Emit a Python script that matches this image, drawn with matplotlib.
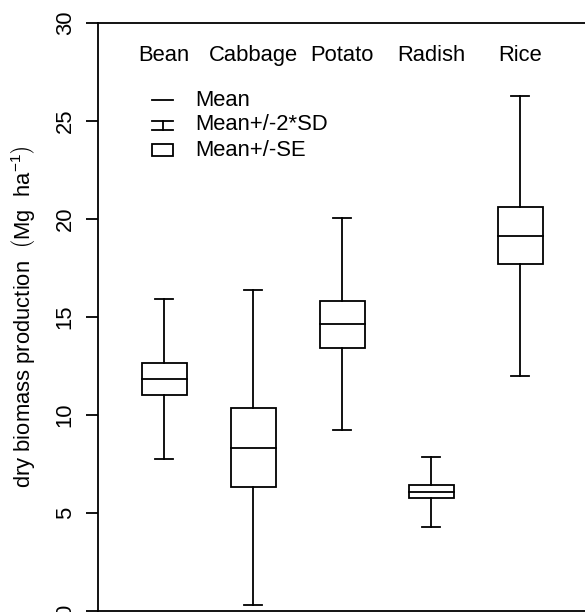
import matplotlib
matplotlib.use("Agg")
import matplotlib.pyplot as plt
from matplotlib.patches import Rectangle

plt.rcParams['font.family'] = ['Liberation Sans', 'DejaVu Sans']
plt.rcParams['mathtext.fontset'] = 'custom'
plt.rcParams['mathtext.rm'] = 'Liberation Sans'
plt.rcParams['mathtext.it'] = 'Liberation Sans:italic'

# crop biomass summary (Mg/ha)
crops = ['Bean', 'Cabbage', 'Potato', 'Radish', 'Rice']
means = [11.82, 8.32, 14.62, 6.06, 19.14]
se = [0.84, 2.03, 1.20, 0.33, 1.45]
sd = [2.04, 4.03, 2.70, 0.90, 3.57]
yticks = [0, 5, 10, 15, 20, 25, 30]

W, H = 585, 612
fs = 15.8
fig = plt.figure(figsize=(W / 100, H / 100), dpi=100)
ax = fig.add_axes([97.5 / W, 1.5 / H, 489.5 / W, 587.5 / H])

lw = 1.3
box_w = 0.5
cap_w = 0.2
for i, (m, s, d) in enumerate(zip(means, se, sd)):
    x = i + 1
    # whiskers: mean +/- 2*SD
    ax.plot([x, x], [m + s, m + 2 * d], color='black', lw=lw)
    ax.plot([x, x], [m - s, m - 2 * d], color='black', lw=lw)
    ax.plot([x - cap_w / 2, x + cap_w / 2], [m + 2 * d] * 2, color='black', lw=lw)
    ax.plot([x - cap_w / 2, x + cap_w / 2], [m - 2 * d] * 2, color='black', lw=lw)
    # box: mean +/- SE
    ax.add_patch(Rectangle((x - box_w / 2, m - s), box_w, 2 * s,
                           fill=False, edgecolor='black', lw=lw))
    ax.plot([x - box_w / 2, x + box_w / 2], [m, m], color='black', lw=lw)
    ax.text(x, 28.08, crops[i], ha='center', va='baseline', fontsize=fs)

ax.set_xlim(0.25, 5.75)
ax.set_ylim(0, 30)
ax.set_xticks([])
ax.set_yticks(yticks)
ax.set_yticklabels([str(t) for t in yticks], rotation=90, va='center', fontsize=fs)
ax.tick_params(axis='y', direction='out', length=8.6, width=lw, pad=7)
ax.spines['right'].set_visible(False)
for sp in ['left', 'top', 'bottom']:
    ax.spines[sp].set_linewidth(lw)
ax.set_ylabel(r'dry biomass production  $\left(\mathrm{Mg\ \ ha}^{-1}\right)$', fontsize=fs)
ax.yaxis.set_label_coords(-0.124, 0.5)

# legend drawn by hand in figure pixels
def px(x, y):
    return x / W, 1 - y / H

tf = fig.transFigure
rows = [100, 125, 150]
fig.add_artist(plt.Line2D(*zip(px(152, rows[0]), px(173, rows[0])), transform=tf, color='black', lw=lw))
fig.add_artist(plt.Line2D(*zip(px(152, rows[1] - 4.5), px(173, rows[1] - 4.5)), transform=tf, color='black', lw=lw))
fig.add_artist(plt.Line2D(*zip(px(152, rows[1] + 4.5), px(173, rows[1] + 4.5)), transform=tf, color='black', lw=lw))
fig.add_artist(plt.Line2D(*zip(px(162.5, rows[1] - 4.5), px(162.5, rows[1] + 4.5)), transform=tf, color='black', lw=lw))
x0, y0 = px(152, rows[2] + 6)
fig.add_artist(Rectangle((x0, y0), 21 / W, 12 / H, transform=tf, fill=False, edgecolor='black', lw=lw))
for r, t in zip(rows, ['Mean', 'Mean+/-2*SD', 'Mean+/-SE']):
    fig.text(*px(195, r), t, ha='left', va='center', fontsize=fs)

fig.savefig('out.png', dpi=100)
